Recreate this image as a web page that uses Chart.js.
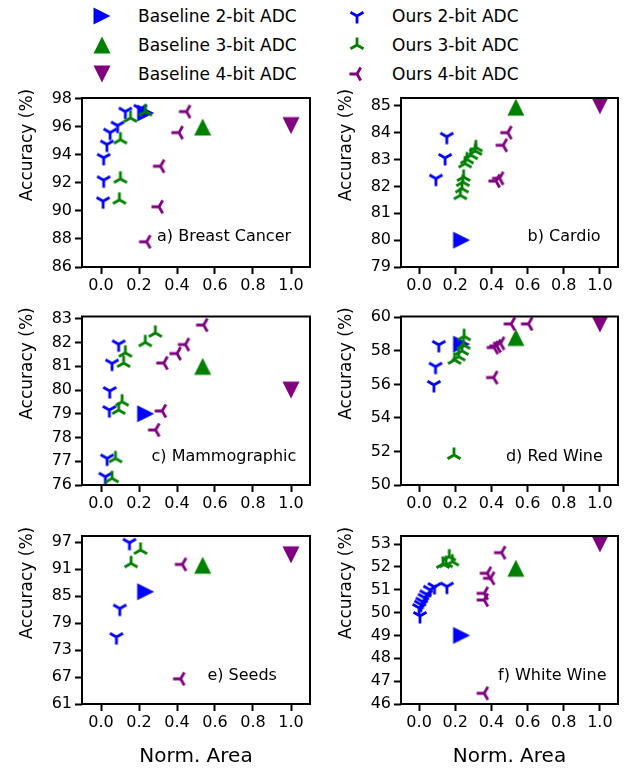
<!DOCTYPE html>
<html lang="en">
<head>
<meta charset="UTF-8">
<title>Accuracy vs. normalized ADC area</title>
<script src="https://cdn.jsdelivr.net/npm/chart.js"></script>
<style>
    body {
        margin: 0;
        padding: 0;
        background: white;
        font-family: 'DejaVu Sans', sans-serif;
    }
    .page {
        position: relative;
        width: 628px;
        height: 774px;
        overflow: hidden;
    }
    .page canvas.panel {
        position: absolute;
        left: 0;
        top: 0;
    }
    .leg-text {
        position: absolute;
        font-size: 17px;
        line-height: 20px;
        color: #000;
        white-space: nowrap;
    }
    .leg-mark {
        position: absolute;
    }
</style>
</head>
<body>
<div class="page" id="page"></div>

<script>
// ---- data ----
const normArea = [0.235, 0.535, 1.0];          // baseline 2/3/4-bit ADC area
const xTicks = [0, 0.2, 0.4, 0.6, 0.8, 1.0];

// a) Breast Cancer
const breastBase = [97.0, 96.0, 96.1];
const breastOurs2 = [[0.011, 90.7], [0.014, 92.2], [0.014, 93.8], [0.031, 94.75], [0.048, 95.6], [0.087, 96.1], [0.128, 97.1], [0.207, 97.3]];
const breastOurs3 = [[0.097, 90.8], [0.102, 92.3], [0.102, 95.1], [0.155, 96.65], [0.234, 97.1]];
const breastOurs4 = [[0.45, 97.1], [0.41, 95.6], [0.313, 93.2], [0.305, 90.3], [0.24, 87.8]];
const breastTicks = [86, 88, 90, 92, 94, 96, 98];

// b) Cardio
const cardioBase = [80.0, 84.95, 85.0];
const cardioOurs2 = [[0.153, 83.85], [0.144, 83.06], [0.093, 82.29]];
const cardioOurs3 = [[0.228, 81.67], [0.237, 81.92], [0.242, 82.16], [0.246, 82.35], [0.254, 82.85], [0.265, 83.0], [0.288, 83.16], [0.311, 83.32], [0.314, 83.45]];
const cardioOurs4 = [[0.49, 84.0], [0.465, 83.53], [0.445, 82.3], [0.425, 82.2]];
const cardioTicks = [79, 80, 81, 82, 83, 84, 85];

// c) Mammographic
const mammoBase = [79.0, 81.0, 80.0];
const mammoOurs2 = [[0.093, 81.93], [0.058, 81.12], [0.046, 79.96], [0.044, 79.16], [0.032, 77.12], [0.023, 76.35]];
const mammoOurs3 = [[0.286, 82.41], [0.233, 82.01], [0.128, 81.57], [0.119, 81.14], [0.111, 79.51], [0.093, 79.16], [0.076, 77.12], [0.058, 76.28]];
const mammoOurs4 = [[0.54, 82.74], [0.444, 81.92], [0.40, 81.54], [0.33, 81.14], [0.322, 79.12], [0.287, 78.32]];
const mammoTicks = [76, 77, 78, 79, 80, 81, 82, 83];

// d) Red Wine
const redBase = [58.4, 58.8, 59.6];
const redOurs2 = [[0.109, 58.36], [0.091, 57.06], [0.082, 55.97]];
const redOurs3 = [[0.249, 58.87], [0.246, 58.36], [0.237, 58.0], [0.219, 57.66], [0.196, 57.46], [0.193, 51.79]];
const redOurs4 = [[0.509, 59.61], [0.605, 59.61], [0.45, 58.45], [0.43, 58.29], [0.415, 58.2], [0.412, 56.41]];
const redTicks = [50, 52, 54, 56, 58, 60];

// e) Seeds
const seedsBase = [86.0, 91.9, 94.2];
const seedsOurs2 = [[0.15, 96.9], [0.099, 82.25], [0.081, 75.91]];
const seedsOurs3 = [[0.208, 95.29], [0.158, 92.31]];
const seedsOurs4 = [[0.428, 92.08], [0.419, 66.6]];
const seedsTicks = [61, 67, 73, 79, 85, 91, 97];

// f) White Wine
const whiteBase = [49.0, 51.94, 53.0];
const whiteOurs2 = [[0.005, 49.85], [0.0, 50.2], [0.01, 50.35], [0.018, 50.48], [0.03, 50.65], [0.04, 50.8], [0.06, 51.0], [0.085, 51.12], [0.154, 51.14]];
const whiteOurs3 = [[0.132, 52.13], [0.149, 52.16], [0.167, 52.45], [0.184, 52.23]];
const whiteOurs4 = [[0.456, 52.62], [0.377, 51.72], [0.395, 51.5], [0.36, 50.84], [0.36, 50.55], [0.36, 46.47]];
const whiteTicks = [46, 47, 48, 49, 50, 51, 52, 53];

const legendLabels = ['Baseline 2-bit ADC', 'Baseline 3-bit ADC', 'Baseline 4-bit ADC',
                      'Ours 2-bit ADC', 'Ours 3-bit ADC', 'Ours 4-bit ADC'];

// ---- styling / layout ----
const FONT = "'DejaVu Sans', sans-serif";
const colors = ['#0000ff', '#008000', '#800080'];

// matplotlib-like markers drawn onto small canvases
function triMarker(color, arms) {
    const c = document.createElement('canvas');
    c.width = c.height = 22;
    const g = c.getContext('2d');
    g.strokeStyle = color;
    g.lineWidth = 2.8;
    g.beginPath();
    arms.forEach(([dx, dy]) => {
        g.moveTo(11, 11);
        g.lineTo(11 + dx * 7.5, 11 + dy * 7.5);
    });
    g.stroke();
    return c;
}
function triangleMarker(color, angle) {
    const c = document.createElement('canvas');
    c.width = c.height = 20;
    const g = c.getContext('2d');
    const h = 8.5;
    g.translate(10, 10);
    g.rotate(angle * Math.PI / 180);
    g.fillStyle = color;
    g.beginPath();
    g.moveTo(0, -h);
    g.lineTo(-h, h);
    g.lineTo(h, h);
    g.closePath();
    g.fill();
    return c;
}
const baseMarkers = [triangleMarker(colors[0], 90), triangleMarker(colors[1], 0), triangleMarker(colors[2], 180)];
const oursMarkers = [
    triMarker(colors[0], [[0, 1], [-0.866, -0.5], [0.866, -0.5]]),   // tri_down
    triMarker(colors[1], [[0, -1], [-0.866, 0.5], [0.866, 0.5]]),    // tri_up
    triMarker(colors[2], [[-1, 0], [0.5, -0.866], [0.5, 0.866]])     // tri_left
];

const panels = [
    { name: 'a) Breast Cancer', base: breastBase, ours: [breastOurs2, breastOurs3, breastOurs4], yTicks: breastTicks, yMin: 86, yMax: 98.07, lx: 0.917, ly: 0.82 },
    { name: 'b) Cardio', base: cardioBase, ours: [cardioOurs2, cardioOurs3, cardioOurs4], yTicks: cardioTicks, yMin: 79, yMax: 85.29, lx: 0.92, ly: 0.82 },
    { name: 'c) Mammographic', base: mammoBase, ours: [mammoOurs2, mammoOurs3, mammoOurs4], yTicks: mammoTicks, yMin: 76, yMax: 83.1, lx: 0.94, ly: 0.83 },
    { name: 'd) Red Wine', base: redBase, ours: [redOurs2, redOurs3, redOurs4], yTicks: redTicks, yMin: 50, yMax: 60.05, lx: 0.93, ly: 0.83 },
    { name: 'e) Seeds', base: seedsBase, ours: [seedsOurs2, seedsOurs3, seedsOurs4], yTicks: seedsTicks, yMin: 61, yMax: 98.4, lx: 0.855, ly: 0.83 },
    { name: 'f) White Wine', base: whiteBase, ours: [whiteOurs2, whiteOurs3, whiteOurs4], yTicks: whiteTicks, yMin: 46, yMax: 53.35, lx: 0.947, ly: 0.83 }
];

const colX = [[82, 310], [401, 627]];
const rowY = [[98, 267], [316.5, 485], [536, 704]];
const W = 628, H = 774;
const page = document.getElementById('page');

// legend (HTML)
const legX = [[102, 138], [357, 392]];
const legY = [16, 45, 74];
legendLabels.forEach((label, i) => {
    const col = Math.floor(i / 3), row = i % 3;
    const src = col === 0 ? baseMarkers[row] : oursMarkers[row];
    const m = document.createElement('canvas');
    m.width = src.width; m.height = src.height;
    m.getContext('2d').drawImage(src, 0, 0);
    m.className = 'leg-mark';
    m.style.left = (legX[col][0] - src.width / 2) + 'px';
    m.style.top = (legY[row] - src.height / 2) + 'px';
    page.appendChild(m);
    const t = document.createElement('div');
    t.className = 'leg-text';
    t.textContent = label;
    t.style.left = legX[col][1] + 'px';
    t.style.top = (legY[row] - 10) + 'px';
    page.appendChild(t);
});

// frame, panel label and axis titles
const decor = {
    id: 'decor',
    afterDatasetsDraw(chart, args, o) {
        const { left, top, right, bottom } = chart.chartArea;
        const ctx = chart.ctx;
        ctx.save();
        ctx.strokeStyle = '#000';
        ctx.lineWidth = 2;
        ctx.strokeRect(left, top, right - left, bottom - top);
        ctx.fillStyle = '#000';
        ctx.textBaseline = 'middle';
        // panel label
        ctx.font = '16px ' + FONT;
        ctx.textAlign = 'right';
        ctx.fillText(o.name, left + o.lx * (right - left), top + o.ly * (bottom - top));
        // y title
        ctx.font = '17px ' + FONT;
        ctx.textAlign = 'center';
        ctx.save();
        ctx.translate(left - 54, top + 47);
        ctx.rotate(-Math.PI / 2);
        ctx.fillText('Accuracy (%)', 0, 0);
        ctx.restore();
        // x title on bottom row only
        if (o.xTitle) {
            ctx.font = '20px ' + FONT;
            ctx.fillText('Norm. Area', (left + right) / 2, 757);
        }
        ctx.restore();
    }
};

panels.forEach((p, i) => {
    const col = i % 2, row = Math.floor(i / 2);
    const [L, R] = colX[col];
    const [T, B] = rowY[row];
    const canvas = document.createElement('canvas');
    canvas.width = W;
    canvas.height = H;
    canvas.className = 'panel';
    page.appendChild(canvas);

    // Chart.js draws dataset 0 on top: ours first, baselines underneath
    const datasets = [];
    for (let k = 2; k >= 0; k--) {
        datasets.push({
            label: legendLabels[3 + k],
            data: p.ours[k].map(([x, y]) => ({ x, y })),
            pointStyle: oursMarkers[k],
            pointRadius: 8
        });
    }
    for (let k = 2; k >= 0; k--) {
        datasets.push({
            label: legendLabels[k],
            data: [{ x: normArea[k], y: p.base[k] }],
            pointStyle: baseMarkers[k],
            pointRadius: 9
        });
    }

    const tickFont = { family: FONT, size: 16 };
    new Chart(canvas, {
        type: 'scatter',
        data: { datasets },
        options: {
            responsive: false,
            animation: false,
            events: [],
            layout: { padding: { left: L - 60, right: W - R, top: T, bottom: H - B - 40 } },
            scales: {
                x: {
                    type: 'linear',
                    min: -0.1,
                    max: 1.1,
                    afterBuildTicks: s => { s.ticks = xTicks.map(v => ({ value: v })); },
                    afterFit: s => { s.height = 40; },
                    ticks: { callback: v => v.toFixed(1), color: '#000', font: tickFont, padding: 2, autoSkip: false, maxRotation: 0 },
                    grid: { drawOnChartArea: false, tickLength: 7, tickWidth: 2, tickColor: '#000' },
                    border: { display: false }
                },
                y: {
                    type: 'linear',
                    min: p.yMin,
                    max: p.yMax,
                    afterBuildTicks: s => { s.ticks = p.yTicks.map(v => ({ value: v })); },
                    afterFit: s => { s.width = 60; },
                    ticks: { callback: v => String(v), color: '#000', font: tickFont, padding: 3, autoSkip: false },
                    grid: { drawOnChartArea: false, tickLength: 7, tickWidth: 2, tickColor: '#000' },
                    border: { display: false }
                }
            },
            plugins: {
                legend: { display: false },
                tooltip: { enabled: false },
                decor: { name: p.name, lx: p.lx, ly: p.ly, xTitle: row === 2 }
            }
        },
        plugins: [decor]
    });
});
</script>
</body>
</html>
